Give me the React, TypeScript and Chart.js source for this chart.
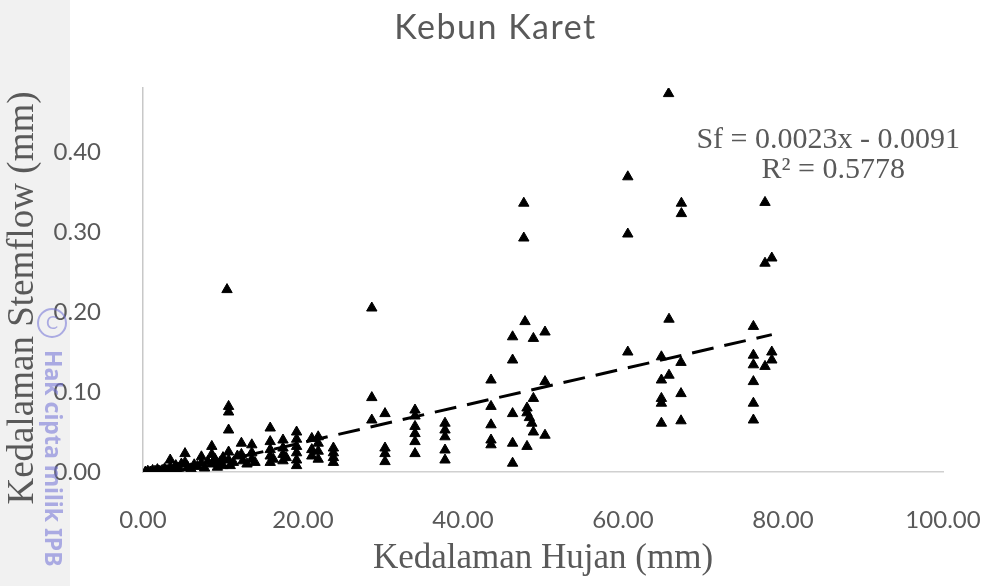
import React, { useEffect, useRef } from 'react';
import { Chart, registerables } from 'chart.js';

Chart.register(...registerables);

// Rainfall depth (mm) of each event
const rainfall: number[] = [
  0.3, 0.6, 0.9, 1.2, 1.5, 1.8, 2.1, 2.4, 2.7, 3.0, 3.4, 3.4, 3.8, 4.1, 4.5, 4.8, 5.25, 5.25, 5.6, 6.0,
  6.4, 6.8, 7.3, 7.3, 7.7, 8.1, 8.6, 8.6, 8.6, 9.0, 9.3, 9.6, 10.0, 10.0,
  10.5, 10.7, 10.7, 10.7, 10.7, 10.7, 10.9, 11.3, 11.8, 12.3, 12.3, 12.5, 13.0, 13.6, 13.6, 13.6, 14.0,
  15.9, 15.9, 15.9, 15.9, 15.9, 16.3,
  17.5, 17.5, 17.5, 17.5, 17.9,
  19.2, 19.2, 19.2, 19.2, 19.2, 19.2,
  21.1, 21.1, 21.1, 21.9, 21.9, 21.9, 21.9,
  23.8, 23.8, 23.8, 23.8,
  28.6, 28.6, 28.6,
  30.25, 30.25, 30.25, 30.25,
  34.0, 34.0, 34.0, 34.0, 34.0, 34.0,
  37.75, 37.75, 37.75, 37.75, 37.75,
  43.5, 43.5, 43.5, 43.5, 43.5,
  46.2, 46.2, 46.2, 46.2, 46.2,
  47.6, 47.6, 47.75,
  48.0, 48.0, 48.3, 48.6, 48.8, 48.0, 48.8, 48.8,
  50.25, 50.25, 50.25,
  60.6, 60.6, 60.6,
  64.8, 64.8, 64.8, 64.8, 64.8,
  65.7, 65.75, 65.75,
  67.3, 67.3, 67.25, 67.25, 67.25,
  76.3, 76.3, 76.3, 76.3, 76.3, 76.3,
  77.75, 77.75, 77.75,
  78.6, 78.6, 78.6,
];

// Stemflow depth (mm) of each event
const stemflow: number[] = [
  0.000, 0.001, 0.000, 0.002, 0.001, 0.003, 0.001, 0.002, 0.004, 0.002, 0.006, 0.015, 0.003, 0.008, 0.005, 0.010, 0.023, 0.012, 0.006, 0.004,
  0.009, 0.007, 0.019, 0.011, 0.005, 0.013, 0.032, 0.022, 0.010, 0.016, 0.006, 0.012, 0.008, 0.018,
  0.228, 0.082, 0.075, 0.0525, 0.025, 0.015, 0.008, 0.012, 0.020, 0.036, 0.022, 0.014, 0.010, 0.034, 0.024, 0.016, 0.012,
  0.055, 0.038, 0.028, 0.020, 0.012, 0.016,
  0.040, 0.030, 0.022, 0.014, 0.018,
  0.050, 0.041, 0.032, 0.024, 0.015, 0.008,
  0.042, 0.028, 0.020, 0.044, 0.036, 0.026, 0.016,
  0.030, 0.024, 0.018, 0.012,
  0.205, 0.093, 0.065,
  0.073, 0.030, 0.023, 0.013,
  0.0775, 0.070, 0.057, 0.048, 0.038, 0.023,
  0.061, 0.0525, 0.044, 0.0275, 0.015,
  0.115, 0.082, 0.059, 0.040, 0.034,
  0.169, 0.140, 0.073, 0.036, 0.011,
  0.336, 0.2925, 0.188,
  0.080, 0.074, 0.068, 0.061, 0.050, 0.032, 0.092, 0.167,
  0.175, 0.113, 0.046,
  0.369, 0.2975, 0.150,
  0.144, 0.115, 0.092, 0.086, 0.061,
  0.473, 0.191, 0.121,
  0.336, 0.323, 0.137, 0.098, 0.064,
  0.182, 0.146, 0.134, 0.113, 0.086, 0.065,
  0.337, 0.261, 0.132,
  0.2675, 0.150, 0.140,
];

const trendSlope = 0.0023;
const trendIntercept = -0.0091;
const xTickValues: number[] = [0, 20, 40, 60, 80, 100];
const yTickValues: number[] = [0, 0.1, 0.2, 0.3, 0.4];
const equationLines: string[] = ['Sf = 0.0023x - 0.0091', 'R² = 0.5778'];
const chartTitle = 'Kebun Karet';
const xAxisTitle = 'Kedalaman Hujan (mm)';
const yAxisTitle = 'Kedalaman Stemflow (mm)';
const watermarkText = 'Hak cipta milik IPB';

const GREY = '#595959';
const SERIF = '"Liberation Serif", "Times New Roman", serif';
const SANS = 'Lato, "Open Sans", sans-serif';

const backgroundPlugin = {
  id: 'bgBand',
  beforeDraw(chart: any) {
    const { ctx, width, height } = chart;
    ctx.save();
    ctx.fillStyle = '#ffffff';
    ctx.fillRect(0, 0, width, height);
    ctx.fillStyle = '#f1f1f1';
    ctx.fillRect(0, 0, 70, height);
    ctx.restore();
  },
};

const textPlugin = {
  id: 'titleTexts',
  afterDraw(chart: any) {
    const { ctx, width } = chart;
    ctx.save();
    ctx.fillStyle = GREY;
    ctx.font = `34px ${SANS}`;
    try { (ctx as any).letterSpacing = '1.5px'; } catch (e) { /* ignore */ }
    ctx.textAlign = 'center';
    ctx.textBaseline = 'middle';
    ctx.fillText(chartTitle, width / 2, 28);
    try { (ctx as any).letterSpacing = '0px'; } catch (e) { /* ignore */ }
    ctx.font = `37px ${SERIF}`;
    ctx.translate(23, 298);
    ctx.rotate(-Math.PI / 2);
    ctx.fillText(yAxisTitle, 0, 0);
    ctx.restore();
  },
};

const equationPlugin = {
  id: 'equationText',
  afterDatasetsDraw(chart: any) {
    const { ctx, chartArea } = chart;
    ctx.save();
    ctx.fillStyle = GREY;
    ctx.font = `30px ${SERIF}`;
    ctx.textBaseline = 'middle';
    ctx.textAlign = 'right';
    ctx.fillText(equationLines[0], chartArea.right + 17, chartArea.top + 52);
    ctx.fillText(equationLines[1], chartArea.right - 38, chartArea.top + 82);
    ctx.restore();
  },
};

const watermarkPlugin = {
  id: 'watermark',
  afterDraw(chart: any) {
    const { ctx } = chart;
    ctx.save();
    ctx.globalAlpha = 0.55;
    ctx.strokeStyle = '#6f6fd6';
    ctx.lineWidth = 2;
    ctx.beginPath();
    ctx.arc(52, 323, 14, 0, Math.PI * 2);
    ctx.stroke();
    ctx.fillStyle = '#6f6fd6';
    ctx.font = `18px ${SANS}`;
    ctx.textAlign = 'center';
    ctx.textBaseline = 'middle';
    ctx.fillText('C', 52, 323);
    ctx.translate(43, 350);
    ctx.rotate(Math.PI / 2);
    ctx.font = `bold 23px "Noto Sans", sans-serif`;
    ctx.textAlign = 'left';
    ctx.textBaseline = 'middle';
    ctx.fillText(watermarkText, 0, -9);
    ctx.restore();
  },
};

export default function App() {
  const canvasRef = useRef<HTMLCanvasElement | null>(null);

  useEffect(() => {
    document.body.style.margin = '0';
    const canvas = canvasRef.current;
    if (!canvas) return;
    const points = rainfall.map((x, i) => ({ x, y: stemflow[i] }));
    const xMin = Math.min(...rainfall);
    const xMax = Math.max(...rainfall);
    const trend = [
      { x: xMin, y: trendSlope * xMin + trendIntercept },
      { x: xMax, y: trendSlope * xMax + trendIntercept },
    ];

    const chart = new Chart(canvas, {
      type: 'scatter',
      data: {
        datasets: [
          {
            type: 'line',
            data: trend,
            borderColor: '#000',
            borderWidth: 3,
            borderDash: [22, 11],
            pointRadius: 0,
            fill: false,
            order: 0,
          } as any,
          {
            data: points,
            pointStyle: 'triangle',
            pointRadius: 6,
            backgroundColor: '#000',
            borderColor: '#000',
            borderWidth: 1,
            order: 1,
          },
        ],
      },
      options: {
        responsive: false,
        animation: false,
        devicePixelRatio: 1,
        layout: { padding: { left: 0, right: 48, top: 88, bottom: 0 } },
        plugins: {
          legend: { display: false },
          tooltip: { enabled: false },
          title: { display: false },
        },
        scales: {
          x: {
            type: 'linear',
            min: 0,
            max: 100,
            afterBuildTicks: (scale: any) => {
              scale.ticks = xTickValues.map((v) => ({ value: v }));
            },
            afterFit: (scale: any) => {
              scale.height = 114;
            },
            grid: { display: false, drawTicks: true, tickLength: 31 },
            border: { display: true, color: '#d0d0d0', width: 1.5 },
            ticks: {
              color: GREY,
              font: { family: SANS, size: 24 },
              padding: 3,
              maxRotation: 0,
              callback: (v: any) => Number(v).toFixed(2),
            },
            title: {
              display: true,
              text: xAxisTitle,
              color: GREY,
              font: { family: SERIF, size: 35 },
              padding: { top: 0, bottom: 6 },
            },
          },
          y: {
            type: 'linear',
            min: 0,
            max: 0.48,
            afterBuildTicks: (scale: any) => {
              scale.ticks = yTickValues.map((v) => ({ value: v }));
            },
            afterFit: (scale: any) => {
              scale.width = 143;
            },
            grid: { display: false, drawTicks: false },
            border: { display: true, color: '#c8c8c8', width: 1.5 },
            ticks: {
              color: GREY,
              font: { family: SANS, size: 24 },
              padding: 42,
              callback: (v: any) => Number(v).toFixed(2),
            },
            title: { display: false },
          },
        },
      },
      plugins: [backgroundPlugin, textPlugin, equationPlugin, watermarkPlugin],
    } as any);

    return () => chart.destroy();
  }, []);

  return (
    <div style={{ position: 'fixed', left: 0, top: 0, width: 991, height: 586, background: '#fff' }}>
      <canvas ref={canvasRef} width={991} height={586} />
    </div>
  );
}
